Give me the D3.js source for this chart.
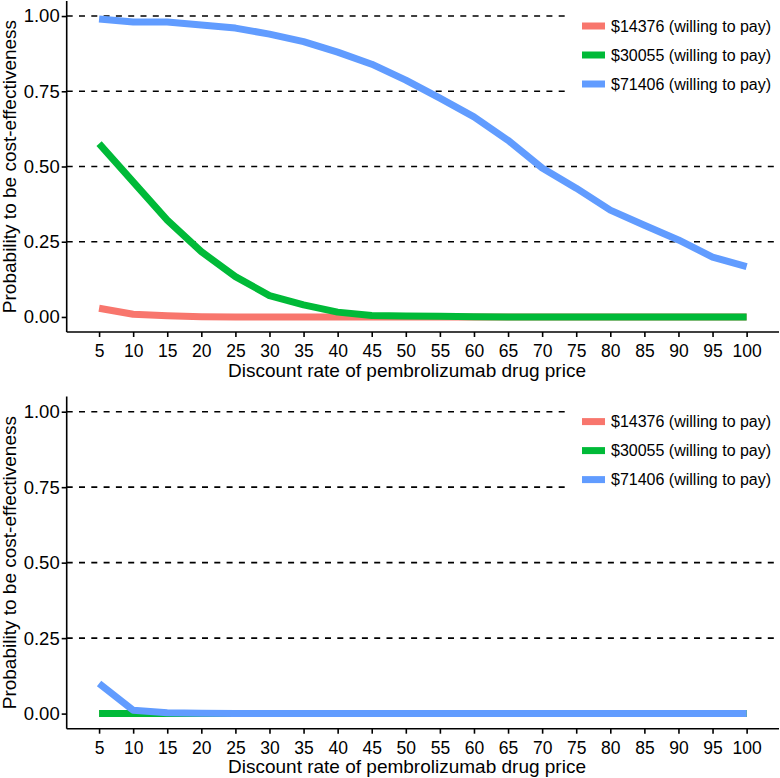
<!DOCTYPE html>
<html>
<head>
<meta charset="utf-8">
<script src="https://cdn.jsdelivr.net/npm/d3@7"></script>
<style>
  html, body { margin: 0; padding: 0; background: #fff; }
  svg { display: block; font-family: "Liberation Sans", Arial, Helvetica, sans-serif; }
</style>
</head>
<body>
<svg id="chart" width="780" height="778"></svg>
<script>
// ---- data ----
const discount = [5,10,15,20,25,30,35,40,45,50,55,60,65,70,75,80,85,90,95,100];
const yTicks = [0, 0.25, 0.5, 0.75, 1.0];
const seriesNames = ["$14376 (willing to pay)", "$30055 (willing to pay)", "$71406 (willing to pay)"];
const seriesColors = ["#F8766D", "#00BA38", "#619CFF"];

const topRed   = [0.029,0.009,0.004,0.001,0,0,0,0,0,0,0,0,0,0,0,0,0,0,0,0];
const topGreen = [0.576,0.449,0.322,0.217,0.134,0.071,0.040,0.016,0.005,0.003,0.002,0.001,0,0,0,0,0,0,0,0];
const topBlue  = [0.99,0.98,0.98,0.97,0.96,0.94,0.915,0.88,0.84,0.787,0.727,0.665,0.587,0.495,0.428,0.355,0.305,0.256,0.199,0.167];

const bottomRed   = [0,0,0,0,0,0,0,0,0,0,0,0,0,0,0,0,0,0,0,0];
const bottomGreen = [0,0,0,0,0,0,0,0,0,0,0,0,0,0,0,0,0,0,0,0];
const bottomBlue  = [0.10,0.011,0.003,0.001,0,0,0,0,0,0,0,0,0,0,0,0,0,0,0,0];

const xTitle = "Discount rate of pembrolizumab drug price";
const yTitle = "Probability to be cost-effectiveness";

// ---- drawing ----
const svg = d3.select("#chart");
const left = 66.7, right = 779;

const x = d3.scaleLinear().domain([0.25, 104.75]).range([left, right]);

function panel(top, bottom, series) {
  const g = svg.append("g");
  const y = d3.scaleLinear().domain([-0.05, 1.05]).range([bottom, top]);

  // dashed grid lines
  g.selectAll("line.grid").data(yTicks.filter(d => d > 0)).enter().append("line")
    .attr("x1", left).attr("x2", right)
    .attr("y1", d => y(d)).attr("y2", d => y(d))
    .attr("stroke", "#000").attr("stroke-width", 1.6)
    .attr("stroke-dasharray", "6,6.3");

  // legend background (covers grid)
  const legTop = top;
  g.append("rect").attr("x", 565).attr("y", legTop + 4).attr("width", 210).attr("height", 98).attr("fill", "#fff");

  // lines
  const line = d3.line().x((d, i) => x(discount[i])).y(d => y(d));
  series.forEach((s, k) => {
    g.append("path").datum(s).attr("d", line)
      .attr("fill", "none").attr("stroke", seriesColors[k])
      .attr("stroke-width", 7).attr("stroke-linejoin", "round").attr("stroke-linecap", "butt");
  });

  // axes
  const xAxis = d3.axisBottom(x).tickValues(discount).tickSize(5).tickPadding(4).tickFormat(d3.format("d"));
  const gx = g.append("g").attr("transform", `translate(0,${bottom})`).call(xAxis);
  gx.select(".domain").attr("stroke", "#000").attr("stroke-width", 1.6)
    .attr("d", `M${left},0H${right}`);
  gx.selectAll(".tick line").attr("stroke", "#000").attr("stroke-width", 1.6);
  gx.selectAll(".tick text").attr("fill", "#000").attr("font-size", 17.5).attr("dy", null).attr("y", 25)
    .attr("font-family", "Liberation Sans, Arial, sans-serif");

  const yAxis = d3.axisLeft(y).tickValues(yTicks).tickSize(5).tickPadding(2).tickFormat(d3.format(".2f"));
  const gy = g.append("g").attr("transform", `translate(${left},0)`).call(yAxis);
  gy.select(".domain").attr("stroke", "#000").attr("stroke-width", 1.6)
    .attr("d", `M0,${top}V${bottom}`);
  gy.selectAll(".tick line").attr("stroke", "#000").attr("stroke-width", 1.6);
  gy.selectAll(".tick text").attr("fill", "#000").attr("font-size", 18.5)
    .attr("font-family", "Liberation Sans, Arial, sans-serif");

  // axis titles
  g.append("text").attr("x", 407).attr("y", bottom + 44.5).attr("text-anchor", "middle")
    .attr("font-size", 19).attr("fill", "#000").text(xTitle);
  g.append("text").attr("transform", `translate(16,${(top + bottom) / 2}) rotate(-90)`)
    .attr("text-anchor", "middle").attr("font-size", 19).attr("fill", "#000").text(yTitle);

  // legend
  const leg = g.append("g");
  seriesNames.forEach((name, k) => {
    const ly = legTop + 25 + k * 29;
    leg.append("line").attr("x1", 582).attr("x2", 605).attr("y1", ly).attr("y2", ly)
      .attr("stroke", seriesColors[k]).attr("stroke-width", 7);
    leg.append("text").attr("x", 611).attr("y", ly).attr("dy", "0.36em")
      .attr("font-size", 16).attr("fill", "#000").text(name);
  });
}

panel(1, 332, [topRed, topGreen, topBlue]);
panel(396.6, 728.7, [bottomRed, bottomGreen, bottomBlue]);
</script>
</body>
</html>
